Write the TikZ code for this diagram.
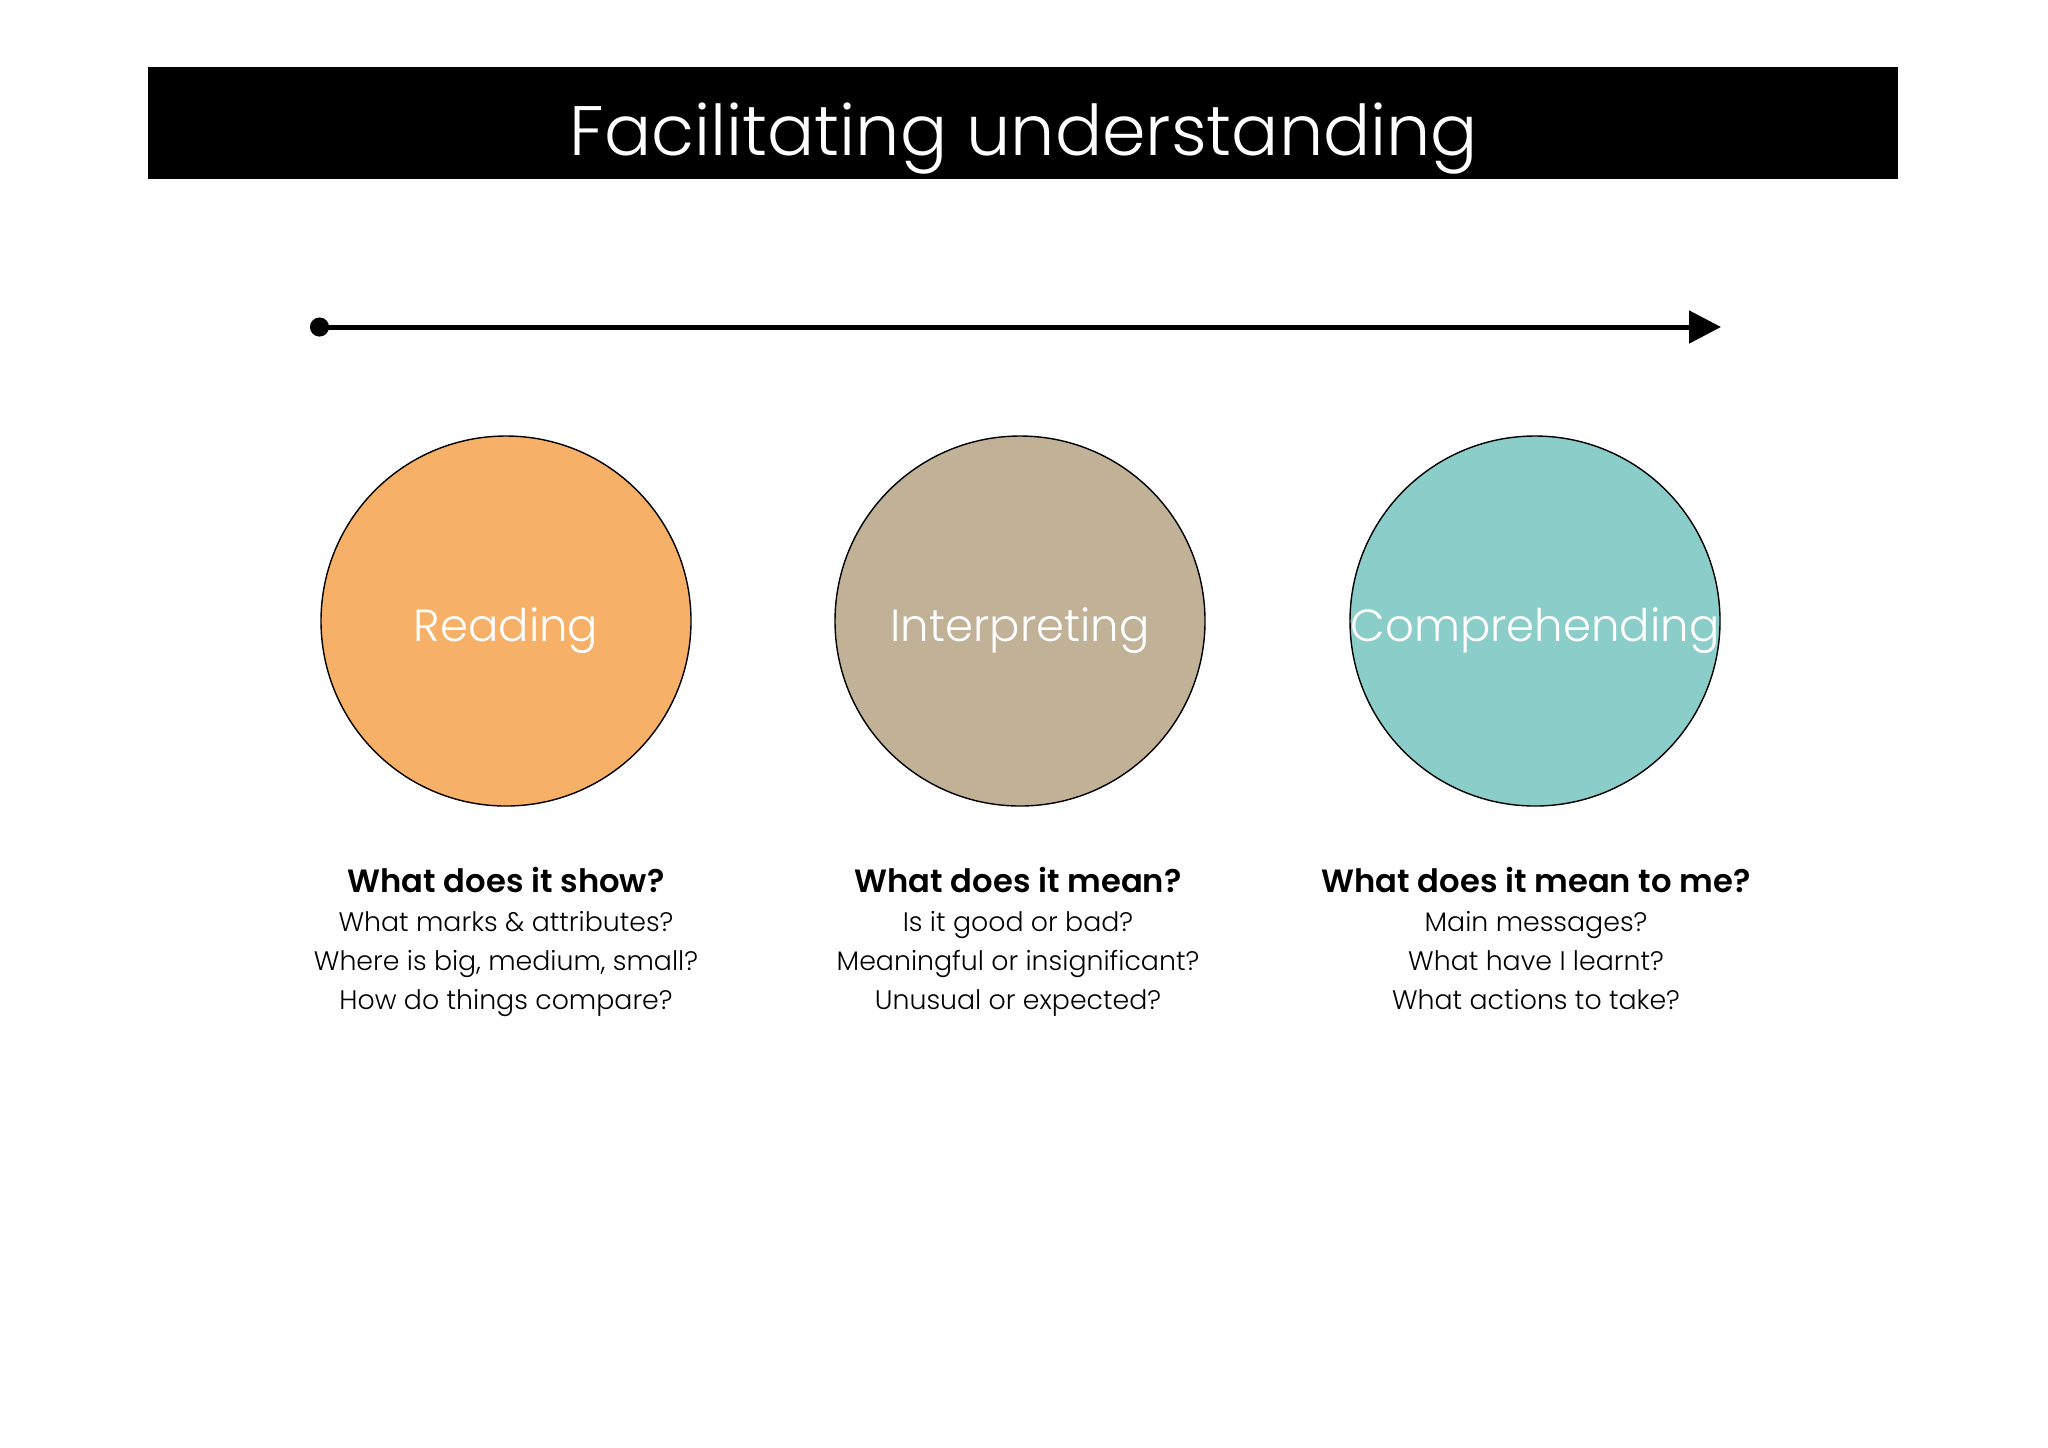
\documentclass[tikz,border=0pt]{standalone}
\usepackage{fontspec}
\setmainfont{Poppins}[UprightFont=* Light, BoldFont=* SemiBold]
\usetikzlibrary{arrows.meta}
\definecolor{cRead}{HTML}{F7B067}
\definecolor{cInterp}{HTML}{C1B197}
\definecolor{cComp}{HTML}{8ACDC9}
\tikzset{
  stage/.style={circle, draw=black, line width=0.7pt, minimum size=185pt, inner sep=0pt},
  stagetext/.style={anchor=base, text=white, font=\fontsize{22.5}{26}\selectfont, inner sep=0pt},
  qhead/.style={anchor=base, font=\bfseries\fontsize{16.1}{19}\selectfont, inner sep=0pt},
  qline/.style={anchor=base, font=\fontsize{13.4}{16}\selectfont, inner sep=0pt},
}
\begin{document}
\begin{tikzpicture}[x=0.5pt,y=-0.5pt]
\useasboundingbox[fill=white] (0,0) rectangle (2048,1447);
\node[fill=black, minimum width=875pt, minimum height=56pt, inner sep=0pt] (bar) at (1023,123) {};
\node[anchor=base, text=white, font=\fontsize{35}{40}\selectfont, inner sep=0pt] (title) at (1024,155) {Facilitating understanding};
\coordinate (astart) at (310,327);
\coordinate (aend) at (1721,327);
\draw[line width=2.5pt, {Circle[length=9.5pt]}-{Triangle[length=16pt,width=16pt]}] (astart) -- (aend);
\node[stage, fill=cRead] (c1) at (506,621) {};
\node[stage, fill=cInterp] (c2) at (1020,621) {};
\node[stage, fill=cComp] (c3) at (1535,621) {};
\node[stagetext] (t1) at (506,641) {Reading};
\node[stagetext] (t2) at (1020,641) {Interpreting};
\node[stagetext] (t3) at (1535,641) {Comprehending};
\node[qhead] (h1) at (506,892) {What does it show?};
\node[qline] (a1) at (506,931) {What marks \& attributes?};
\node[qline] (a2) at (506,970) {Where is big, medium, small?};
\node[qline] (a3) at (506,1009) {How do things compare?};
\node[qhead] (h2) at (1018,892) {What does it mean?};
\node[qline] (b1) at (1018,931) {Is it good or bad?};
\node[qline] (b2) at (1018,970) {Meaningful or insignificant?};
\node[qline] (b3) at (1018,1009) {Unusual or expected?};
\node[qhead] (h3) at (1536,892) {What does it mean to me?};
\node[qline] (d1) at (1536,931) {Main messages?};
\node[qline] (d2) at (1536,970) {What have I learnt?};
\node[qline] (d3) at (1536,1009) {What actions to take?};
\end{tikzpicture}
\end{document}
